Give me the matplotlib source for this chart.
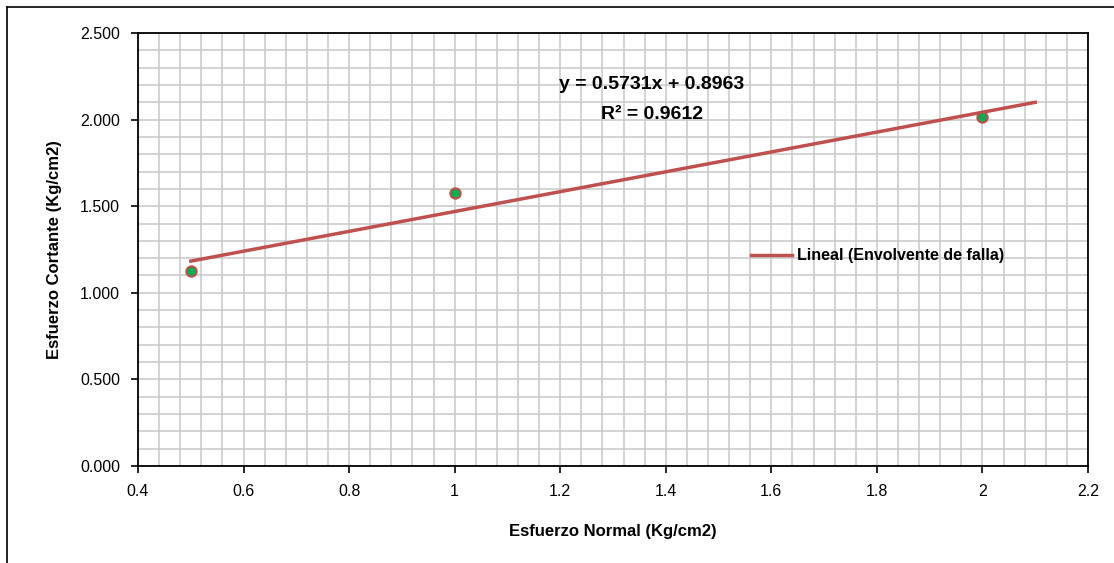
import matplotlib.pyplot as plt
from matplotlib.ticker import MultipleLocator, FuncFormatter
from matplotlib.lines import Line2D
import numpy as np

# ensayo de corte directo
esfuerzo_normal = [0.5, 1.0, 2.0]
esfuerzo_cortante = [1.125, 1.575, 2.013]

# linea de tendencia mostrada en el grafico
pendiente = 0.5731
intercepto = 0.8963
r2 = 0.9612
x_fin_tendencia = 2.1

plt.rcParams['font.family'] = ['Liberation Sans', 'DejaVu Sans']

fig = plt.figure(figsize=(11.14, 5.63), dpi=100)
ax = fig.add_axes([138 / 1114, 1 - 466 / 563, (1088 - 138) / 1114, (466 - 33) / 563])

# marco exterior del grafico (cortado a la derecha y abajo)
fig.add_artist(Line2D([7 / 1114, 7 / 1114], [0, 1 - 7 / 563], color='black', lw=1.2))
fig.add_artist(Line2D([7 / 1114, 1], [1 - 7 / 563, 1 - 7 / 563], color='black', lw=1.2))

xt = np.array([esfuerzo_normal[0], x_fin_tendencia])
ax.plot(xt, pendiente * xt + intercepto, color='#C0504D', lw=2.5, zorder=3,
        label='Lineal (Envolvente de falla)')
ax.scatter(esfuerzo_normal, esfuerzo_cortante, s=55, c='#00B050',
           edgecolors='#C0504D', linewidths=1.5, zorder=4)

ax.set_xlim(0.4, 2.2)
ax.set_ylim(0, 2.5)
ax.xaxis.set_major_locator(MultipleLocator(0.2))
ax.xaxis.set_minor_locator(MultipleLocator(0.04))
ax.yaxis.set_major_locator(MultipleLocator(0.5))
ax.yaxis.set_minor_locator(MultipleLocator(0.1))
ax.xaxis.set_major_formatter(FuncFormatter(lambda v, p: '%g' % round(v, 2)))
ax.yaxis.set_major_formatter(FuncFormatter(lambda v, p: '%.3f' % v))

ax.grid(which='both', color='#C8C8C8', lw=1.1, zorder=0)
ax.set_axisbelow(True)
for s in ax.spines.values():
    s.set_color('black')
    s.set_linewidth(1.3)
ax.tick_params(which='minor', length=0)
ax.tick_params(which='major', length=5, width=1.2, labelsize=11.5, pad=8)

ax.set_xlabel('Esfuerzo Normal (Kg/cm2)', fontsize=12, fontweight='bold', labelpad=18)
ax.set_ylabel('Esfuerzo Cortante (Kg/cm2)', fontsize=12, fontweight='bold', labelpad=13)

ax.text(1.374, 2.20, 'y = %.4fx + %.4f' % (pendiente, intercepto), ha='center', va='center',
        fontsize=14, fontweight='bold')
ax.text(1.374, 2.03, 'R² = %.4f' % r2, ha='center', va='center',
        fontsize=14, fontweight='bold')

ax.legend(loc='center left', bbox_to_anchor=(0.63, 0.485), frameon=False,
          prop={'weight': 'bold', 'size': 11.5}, handlelength=2.6,
          handletextpad=0.3)

fig.savefig('out.png', dpi=100)
